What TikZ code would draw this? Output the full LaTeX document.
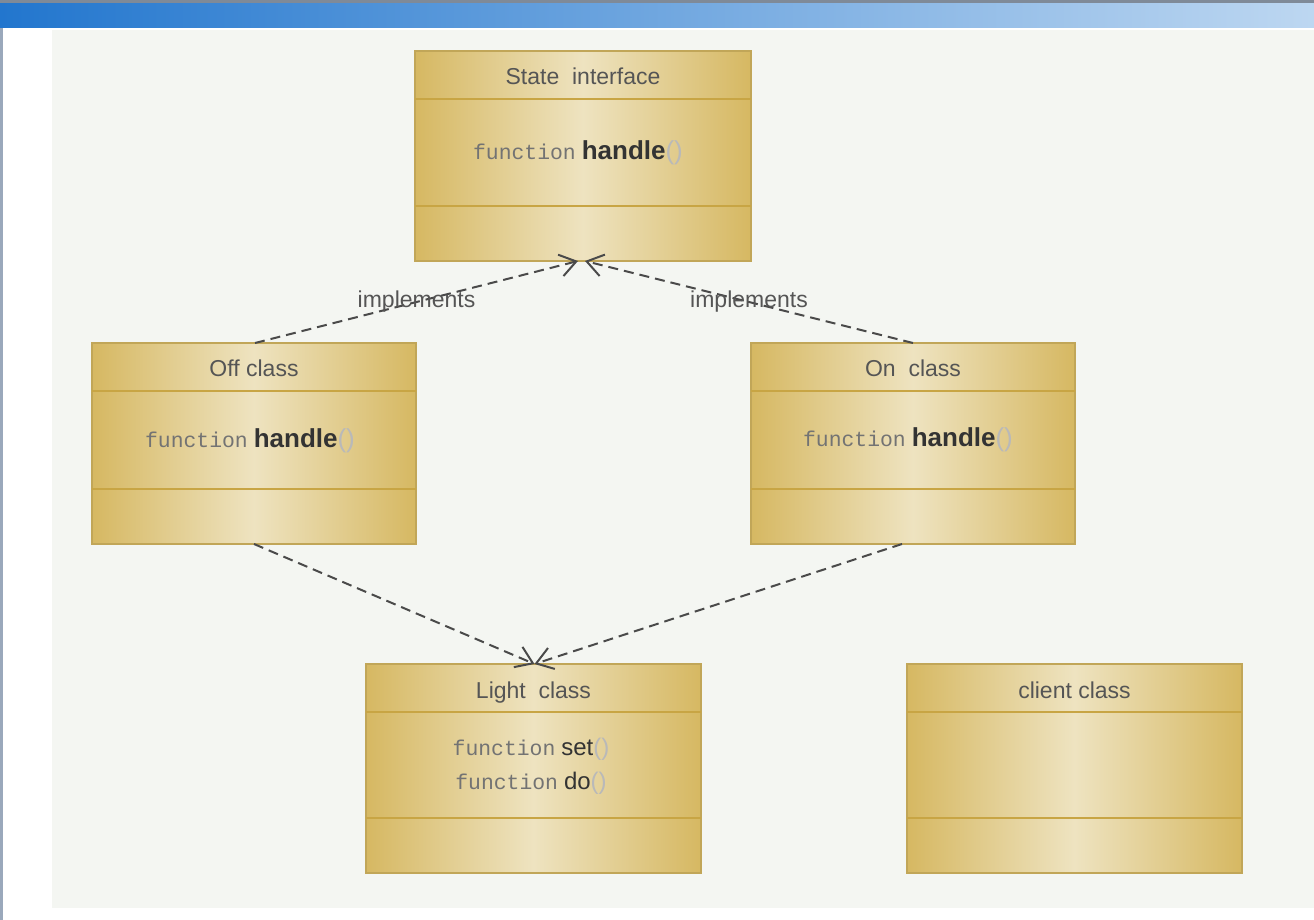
\documentclass[tikz,border=0pt]{standalone}
\usepackage{fontspec}
\setmainfont{Liberation Sans}
\newfontfamily\codefont{Liberation Mono}
\usetikzlibrary{arrows.meta}
\definecolor{goldedge}{HTML}{D6B862}
\definecolor{goldmid}{HTML}{EEE3C0}
\definecolor{goldline}{HTML}{C8A544}
\definecolor{txtgray}{HTML}{555555}
\definecolor{arrowgray}{HTML}{4A4A4A}
\definecolor{panel}{HTML}{F4F6F2}
\definecolor{barleft}{HTML}{2276CE}
\definecolor{barright}{HTML}{BDD7F1}
\definecolor{bartop}{HTML}{7F8A98}
\definecolor{edgegray}{HTML}{9AA8BB}
% one operation line: mono keyword, sans name, light brackets
\newcommand{\opline}[2][\bfseries\fontsize{13}{15}\selectfont]{{\codefont\color{gray!90!black}function}\ {#1{\color{black!80}#2}{\mdseries\color{gray!55}()}}}
\newcommand{\umlclass}[6]{% name, left, top, right, bottom, title
\node[classbox,minimum width={(#4-#2)*0.5pt},minimum height={(#5-#3)*0.5pt},anchor=north west] (#1) at (#2,#3) {};
\draw[divline] ([yshift=-24pt]#1.north west) -- ([yshift=-24pt]#1.north east);
\draw[divline] ([yshift=27.5pt]#1.south west) -- ([yshift=27.5pt]#1.south east);
\node[titletext] (#1-title) at ([yshift=-14pt]#1.north) {#6};}
\tikzset{
classbox/.style={draw=goldedge!90!black,line width=0.7pt,inner sep=0pt,outer sep=0pt,left color=goldedge,right color=goldedge,middle color=goldmid},
divline/.style={goldline,line width=0.9pt},
titletext/.style={text=txtgray,font=\fontsize{11.5}{14}\selectfont,text height=8.5pt,text depth=2.5pt},
optext/.style={font=\fontsize{10.7}{17}\selectfont,align=center},
dep/.style={arrowgray,line width=1pt,dash pattern=on 5pt off 3pt,-{Straight Barb[length=8pt,width=11pt,line width=1pt]}},
deplabel/.style={text=txtgray,font=\fontsize{11.5}{14}\selectfont,inner sep=0pt}
}
\begin{document}
\begin{tikzpicture}[x=0.5pt,y=-0.5pt]
\useasboundingbox (0,0) rectangle (1314,920);
\fill[white] (0,0) rectangle (1314,920); \fill[panel] (52,30) rectangle (1314,908);
\shade[left color=barleft,right color=barright] (0,3) rectangle (1314,28); \fill[bartop] (0,0) rectangle (1314,3); \fill[edgegray] (0,28) rectangle (3,920);
\umlclass{state}{415}{51}{751}{261}{State\ \ interface}
\umlclass{off}{92}{343}{416}{544}{Off class}
\umlclass{on}{751}{343}{1075}{544}{On\ \ class}
\umlclass{light}{366}{664}{701}{873}{Light\ \ class}
\umlclass{client}{907}{664}{1242}{873}{client class}
\node[optext] (state-ops) at (578,153) {\opline{handle}};
\node[optext] (off-ops) at (250,441) {\opline{handle}};
\node[optext] (on-ops) at (908,440) {\opline{handle}};
\node[optext] (light-ops) at (531,766) {\opline[\fontsize{12}{14}\selectfont]{set}\\\opline[\fontsize{12}{14}\selectfont]{do}};
\draw[dep] ([xshift=0.5pt]off.north) -- node[deplabel]{implements} ([xshift=-2.5pt]state.south);
\draw[dep] ([xshift=0pt]on.north) -- node[deplabel]{implements} ([xshift=1pt]state.south);
\draw[dep] (off.south) -- ([xshift=0.5pt]light.north);
\draw[dep] ([xshift=-5.5pt]on.south) -- ([xshift=0.5pt]light.north);
\end{tikzpicture}
\end{document}
